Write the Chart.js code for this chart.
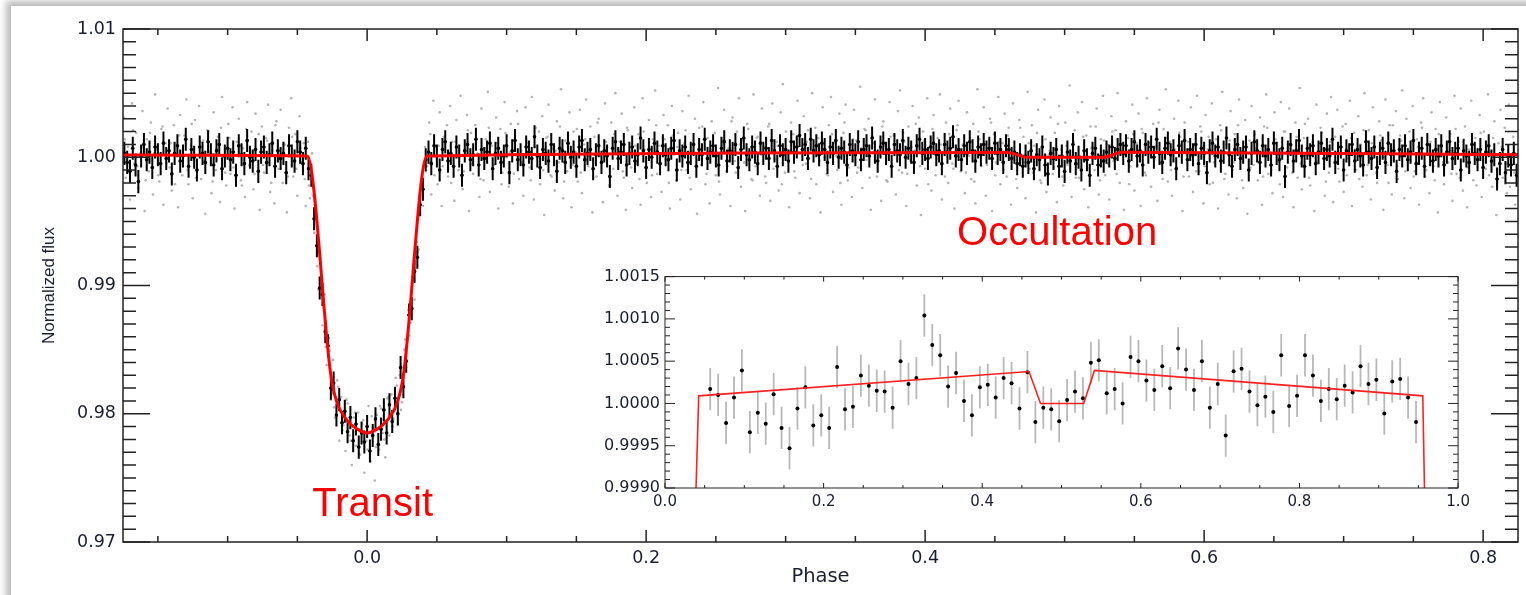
<!DOCTYPE html>
<html>
<head>
<meta charset="utf-8">
<title>Transit and occultation light curve</title>
<script src="https://cdn.jsdelivr.net/npm/chart.js@4.4.1/dist/chart.umd.min.js"></script>
<style>
  html, body { margin: 0; padding: 0; width: 1526px; height: 595px; overflow: hidden; background: #fff; }
  .card { position: absolute; left: 11px; top: 6px; width: 1600px; height: 700px; background: #fff; box-shadow: 0 0 7px 5px rgba(0, 0, 0, 0.28); }
  #mainChart { position: absolute; left: 0; top: 0; }
  #insetChart { position: absolute; left: 590px; top: 262px; background: #fff; }
</style>
</head>
<body>
<div class="card"></div>
<canvas id="mainChart" width="1526" height="595"></canvas>
<canvas id="insetChart" width="885" height="255"></canvas>
<script>
// tick labels
const mainXTicks = [0.0, 0.2, 0.4, 0.6, 0.8];
const mainYTicks = [0.97, 0.98, 0.99, 1.00, 1.01];
const insetXTicks = [0.0, 0.2, 0.4, 0.6, 0.8, 1.0];
const insetYTicks = [0.9990, 0.9995, 1.0000, 1.0005, 1.0010, 1.0015];

// red model curves
const modelPhase = [-0.175, -0.043, -0.026, -0.022, -0.0145, -0.007, 0, 0.007, 0.0145, 0.022, 0.026, 0.043, 0.459, 0.4735, 0.528, 0.5415, 0.825];
const modelFlux = [1.00018, 1.0001, 0.9830, 0.9810, 0.9795, 0.9788, 0.9785, 0.9788, 0.9795, 0.9810, 0.9830, 1.0001, 1.00038, 1.0000, 1.0000, 1.00039, 1.00019];
const insetModelPhase = [0.0385, 0.0425, 0.459, 0.4735, 0.528, 0.5415, 0.9555, 0.958];
const insetModelFlux = [0.9988, 1.00009, 1.000378, 1.0000, 1.0000, 1.00039, 1.00009, 0.9988];

// black binned points, one every 0.002 in phase from -0.174
const binStart = -0.174, binStep = 0.002;
const binnedFlux = [
  1.0003, 0.9996, 0.9989, 1.0007, 0.9994, 0.9981, 1.0001, 1.0010, 0.9998, 1.0004,
  0.9992, 1.0008, 1.0002, 0.9995, 1.0011, 0.9999, 1.0005, 0.9987, 1.0003, 1.0009,
  0.9997, 1.0001, 1.0014, 0.9993, 1.0006, 1.0000, 0.9990, 1.0008, 1.0003, 0.9996,
  1.0012, 1.0002, 0.9994, 1.0005, 1.0010, 0.9991, 1.0001, 1.0007, 0.9998, 1.0004,
  0.9986, 1.0009, 1.0002, 0.9995, 1.0013, 1.0000, 0.9997, 1.0006, 0.9989, 1.0004,
  1.0008, 0.9996, 1.0002, 1.0011, 0.9993, 1.0005, 0.9999, 1.0003, 0.9988, 1.0009,
  1.0001, 0.9997, 1.0012, 1.0004, 0.9995, 1.0007,
  // transit
  0.9991, 0.9986, 0.9952, 0.9931, 0.9898, 0.9893, 0.9864, 0.9853, 0.9820, 0.9824,
  0.9799, 0.9811, 0.9793, 0.9802, 0.9786, 0.9797, 0.9779, 0.9792, 0.9774, 0.9785,
  0.9778, 0.9790, 0.9771, 0.9783, 0.9796, 0.9776, 0.9788, 0.9803, 0.9785, 0.9807,
  0.9794, 0.9812, 0.9800, 0.9836, 0.9821, 0.9841, 0.9877, 0.9882, 0.9911, 0.9922,
  0.9963, 0.9975, 0.9998,
  // after transit
  1.0004, 0.9995, 1.0009, 1.0001, 0.9990, 1.0006, 1.0012, 0.9997, 1.0003, 0.9993,
  1.0008, 1.0001, 0.9986, 1.0005, 1.0010, 0.9998, 1.0002, 1.0014, 0.9994, 1.0006,
  0.9999, 1.0004, 1.0011, 0.9991, 1.0003, 1.0007, 0.9996, 1.0001, 1.0009, 0.9988,
  1.0005, 1.0013, 0.9998, 1.0002, 0.9994, 1.0008, 1.0004, 0.9999, 1.0016, 1.0001,
  0.9992, 1.0006, 1.0003, 0.9997, 1.0010, 1.0002, 0.9989, 1.0007, 1.0005, 0.9996,
  1.0011, 1.0000, 1.0004, 0.9993, 1.0008, 1.0013, 0.9998, 1.0003, 1.0006, 0.9991,
  1.0002, 1.0009, 0.9996, 1.0005, 1.0001, 0.9985, 1.0007, 1.0012, 0.9999, 1.0004,
  1.0010, 0.9994, 1.0003, 1.0008, 0.9997, 1.0002, 1.0015, 1.0005, 0.9992, 1.0006,
  1.0000, 1.0011, 1.0004, 0.9995, 1.0009, 1.0002, 0.9998, 1.0007, 1.0013, 0.9990,
  1.0005, 1.0001, 1.0008, 0.9996, 1.0003, 1.0010, 0.9993, 1.0006, 1.0002, 1.0014,
  0.9999, 1.0004, 1.0009, 1.0001, 0.9994, 1.0007, 1.0012, 0.9997, 1.0005, 1.0003,
  1.0010, 0.9992, 1.0006, 1.0015, 1.0002, 0.9998, 1.0008, 1.0004, 0.9995, 1.0011,
  1.0003, 1.0007, 0.9999, 1.0013, 1.0005, 0.9993, 1.0009, 1.0002, 1.0006, 0.9997,
  1.0012, 1.0004, 1.0008, 1.0017, 1.0006, 1.0010, 0.9999, 1.0014, 1.0005, 1.0009,
  1.0002, 1.0011, 1.0006, 0.9996, 1.0008, 1.0003, 1.0013, 1.0000, 1.0007, 1.0004,
  0.9994, 1.0010, 1.0005, 1.0002, 1.0012, 0.9998, 1.0006, 1.0009, 1.0001, 1.0015,
  1.0004, 0.9997, 1.0008, 1.0011, 1.0003, 1.0006, 0.9993, 1.0010, 1.0005, 1.0002,
  1.0013, 1.0000, 1.0007, 1.0004, 0.9996, 1.0009, 1.0014, 1.0003, 1.0006, 0.9999,
  1.0008, 1.0011, 1.0002, 1.0005, 0.9995, 1.0010, 1.0004, 1.0007, 1.0016, 1.0001,
  1.0006, 0.9998, 1.0009, 1.0003, 1.0012, 1.0005, 0.9997, 1.0008, 1.0002, 1.0010,
  1.0004, 1.0007, 0.9999, 1.0011, 1.0003, 1.0006, 0.9996, 1.0009,
  // occultation
  1.0006, 0.9999, 1.0004, 0.9995, 1.0002, 0.9993, 1.0001,
  0.9996, 1.0005, 0.9991, 1.0002, 0.9998, 1.0008, 0.9994, 0.9987, 1.0003, 0.9999,
  1.0006, 0.9993, 1.0001, 0.9989, 1.0004, 0.9997, 1.0010, 0.9995, 1.0000, 0.9990,
  1.0005, 0.9998, 0.9986, 1.0003, 1.0007, 0.9994, 1.0001,
  0.9997, 1.0004, 1.0001, 1.0008, 0.9999, 1.0006, 1.0010,
  // after occultation
  1.0003, 1.0009, 0.9997, 1.0006, 1.0012, 1.0001, 1.0005, 0.9994, 1.0010, 1.0004,
  1.0008, 1.0000, 1.0014, 1.0003, 0.9996, 1.0007, 1.0011, 1.0002, 1.0005, 0.9991,
  1.0009, 1.0004, 1.0013, 0.9998, 1.0006, 1.0002, 1.0010, 0.9995, 1.0007, 1.0003,
  0.9988, 1.0005, 1.0011, 1.0001, 1.0008, 0.9997, 1.0004, 1.0015, 1.0002, 0.9993,
  1.0006, 1.0010, 0.9999, 1.0004, 1.0008, 0.9990, 1.0003, 1.0012, 1.0005, 0.9996,
  1.0009, 1.0001, 1.0006, 0.9994, 1.0011, 1.0003, 0.9998, 1.0007, 0.9985, 1.0004,
  1.0010, 0.9997, 1.0005, 1.0013, 1.0001, 0.9993, 1.0007, 1.0002, 1.0009, 0.9995,
  1.0004, 1.0011, 0.9999, 1.0006, 1.0001, 1.0014, 0.9996, 1.0003, 1.0008, 0.9990,
  1.0005, 1.0002, 1.0010, 0.9997, 1.0006, 1.0001, 0.9994, 1.0012, 1.0004, 0.9999,
  1.0008, 0.9992, 1.0003, 1.0007, 0.9996, 1.0011, 1.0002, 1.0005, 0.9989, 1.0006,
  1.0001, 1.0009, 0.9998, 1.0004, 1.0013, 0.9995, 1.0003, 1.0007, 0.9993, 1.0010,
  1.0002, 0.9997, 1.0006, 1.0001, 1.0009, 0.9994, 1.0004, 1.0012, 0.9999, 1.0003,
  1.0007, 0.9990, 1.0005, 1.0001, 0.9996, 1.0010, 1.0003, 0.9998, 1.0006, 0.9992,
  1.0004, 1.0009, 0.9997, 1.0002, 0.9983, 0.9995, 1.0006, 0.9988, 1.0001, 0.9994,
  1.0003, 0.9986
];

// grey unbinned points, one every 0.0015 in phase from -0.1745
const rawStart = -0.1745, rawStep = 0.0015;
const rawFlux = [
  1.0031, 0.9984, 1.0008, 0.9967, 1.0042, 0.9995, 1.0019, 0.9976, 1.0003, 1.0036, 0.9958, 1.0014,
  0.9989, 1.0027, 0.9971, 1.0049, 1.0006, 0.9981, 1.0022, 0.9963, 1.0011, 1.0038, 0.9992, 0.9974,
  1.0025, 1.0002, 0.9961, 1.0033, 0.9986, 1.0017, 1.0045, 0.9979, 1.0009, 0.9968, 1.0029, 0.9997,
  1.0040, 0.9983, 1.0013, 0.9956, 1.0021, 1.0004, 0.9972, 1.0035, 0.9990, 1.0016, 0.9965, 1.0047,
  1.0000, 0.9978, 1.0026, 0.9987, 1.0039, 0.9960, 1.0012, 1.0030, 0.9982, 1.0007, 0.9969, 1.0043,
  0.9994, 1.0020, 0.9975, 1.0034, 1.0001, 0.9959, 1.0024, 0.9988, 1.0015, 1.0041, 0.9973, 1.0005,
  0.9964, 1.0028, 0.9991, 1.0037, 0.9980, 1.0010, 0.9957, 1.0023, 1.0046, 0.9985, 1.0018, 0.9970,
  1.0032, 0.9996, 1.0011, 0.9962,
  // transit
  1.0012, 0.9968, 1.0003, 0.9941, 0.9952, 0.9897, 0.9921, 0.9869, 0.9893, 0.9838, 0.9859, 0.9811,
  0.9842, 0.9797, 0.9826, 0.9779, 0.9813, 0.9791, 0.9771, 0.9808, 0.9783, 0.9760, 0.9797, 0.9775,
  0.9801, 0.9768, 0.9792, 0.9754, 0.9779, 0.9806, 0.9763, 0.9789, 0.9748, 0.9799, 0.9772, 0.9804,
  0.9785, 0.9766, 0.9812, 0.9783, 0.9815, 0.9796, 0.9828, 0.9791, 0.9830, 0.9809, 0.9850, 0.9836,
  0.9881, 0.9871, 0.9907, 0.9889, 0.9934, 0.9928, 0.9979, 0.9962, 1.0008,
  // after transit
  0.9993, 1.0027, 0.9971, 1.0044, 1.0008, 0.9979, 1.0035, 0.9962, 1.0016, 1.0001, 0.9985, 1.0040,
  1.0012, 0.9966, 1.0029, 0.9990, 1.0048, 0.9975, 1.0006, 1.0033, 0.9958, 1.0019, 0.9987, 1.0025,
  1.0003, 0.9969, 1.0038, 0.9982, 1.0014, 1.0051, 0.9973, 1.0009, 0.9994, 1.0031, 0.9960, 1.0022,
  0.9988, 1.0043, 1.0000, 0.9977, 1.0026, 0.9964, 1.0017, 1.0036, 0.9983, 1.0005, 0.9970, 1.0039,
  1.0011, 0.9992, 1.0047, 0.9967, 1.0023, 1.0002, 0.9979, 1.0032, 0.9955, 1.0015, 1.0041, 0.9986,
  1.0007, 0.9974, 1.0028, 0.9996, 1.0053, 0.9968, 1.0013, 0.9989, 1.0035, 0.9961, 1.0020, 1.0004,
  0.9981, 1.0037, 0.9972, 1.0010, 1.0045, 0.9993, 1.0024, 0.9957, 1.0016, 0.9985, 1.0030, 1.0001,
  0.9965, 1.0042, 1.0008, 0.9978, 1.0027, 0.9991, 1.0050, 0.9970, 1.0012, 1.0034, 0.9984, 0.9959,
  1.0021, 1.0003, 0.9976, 1.0039, 0.9995, 1.0018, 0.9963, 1.0046, 1.0006, 0.9980, 1.0029, 0.9969,
  1.0014, 1.0052, 0.9987, 1.0009, 0.9973, 1.0033, 0.9998, 1.0025, 0.9960, 1.0040, 1.0002, 0.9982,
  1.0019, 0.9967, 1.0036, 1.0011, 0.9990, 1.0048, 0.9975, 1.0005, 1.0030, 0.9956, 1.0023, 0.9994,
  1.0043, 0.9979, 1.0015, 0.9964, 1.0028, 1.0001, 0.9986, 1.0054, 0.9971, 1.0010, 1.0037, 0.9989,
  1.0007, 0.9962, 1.0031, 0.9997, 1.0020, 1.0046, 0.9977, 1.0013, 0.9958, 1.0026, 1.0004, 0.9983,
  1.0049, 0.9993, 1.0016, 0.9970, 1.0038, 1.0008, 0.9980, 1.0024, 0.9966, 1.0042, 0.9999, 1.0012,
  0.9974, 1.0035, 1.0057, 0.9988, 1.0003, 0.9961, 1.0027, 1.0018, 0.9984, 1.0044, 0.9972, 1.0009,
  1.0032, 0.9995, 1.0021, 0.9968, 1.0050, 1.0006, 0.9979, 1.0015, 0.9957, 1.0039, 1.0000, 0.9987,
  1.0025, 1.0047, 0.9973, 1.0011, 0.9990, 1.0034, 0.9963, 1.0019, 1.0041, 0.9982, 1.0004, 0.9969,
  1.0037, 1.0013, 0.9992, 1.0055, 0.9976, 1.0022, 0.9998, 1.0030, 0.9959, 1.0016, 1.0045, 0.9985,
  1.0002, 0.9966, 1.0028, 1.0009, 0.9981, 1.0043, 0.9994, 1.0017, 0.9971, 1.0036, 1.0052, 0.9988,
  1.0012, 0.9962, 1.0024, 0.9997, 1.0040, 1.0005, 0.9978, 1.0031, 0.9955, 1.0020, 0.9991, 1.0046,
  1.0008, 0.9974, 1.0033, 0.9986, 1.0015, 1.0049, 0.9967, 1.0003, 1.0027, 0.9980, 1.0038, 0.9995,
  0.9960, 1.0021, 1.0044, 0.9989, 1.0010, 0.9972, 1.0035, 1.0001, 0.9983, 1.0026, 0.9964, 1.0053,
  1.0014, 0.9993, 1.0039, 0.9970, 1.0007, 1.0030, 0.9958, 1.0018, 0.9996, 1.0047, 0.9979, 1.0011,
  1.0034, 0.9985, 1.0023, 0.9963, 1.0042, 1.0004, 0.9976, 1.0029, 0.9999, 1.0016, 0.9968, 1.0051,
  0.9991, 1.0025, 1.0009, 0.9957, 1.0037, 0.9982, 1.0013, 1.0045, 0.9973, 1.0002, 1.0031, 0.9987,
  1.0019, 0.9965, 1.0040, 1.0006, 0.9978, 1.0027, 0.9994, 1.0056, 0.9969, 1.0012, 0.9984, 1.0035,
  1.0001, 1.0043, 0.9975, 1.0017, 0.9961, 1.0024, 1.0008, 0.9990, 1.0038, 0.9971, 1.0014, 1.0048,
  0.9986, 1.0010, 0.9967, 1.0032, 0.9997, 1.0021, 1.0050, 0.9980, 1.0005, 0.9959, 1.0028, 1.0015,
  0.9993, 1.0041, 0.9974, 1.0011, 1.0034, 0.9962, 1.0019, 0.9988, 1.0046, 1.0003, 0.9977, 1.0026,
  1.0008, 0.9966, 1.0037, 0.9995, 1.0022, 1.0053, 0.9981, 1.0012, 0.9970, 1.0030, 0.9992, 1.0044,
  1.0016, 0.9958, 1.0027, 1.0002, 0.9985, 1.0039, 0.9973, 1.0009, 1.0048, 0.9989, 1.0020, 0.9964,
  1.0033, 1.0006, 0.9979, 1.0042, 0.9996, 1.0014, 0.9960, 1.0025, 1.0051, 0.9983, 1.0010, 0.9971,
  1.0036, 0.9990, 1.0018, 0.9968, 1.0045, 1.0001, 0.9976, 1.0029, 0.9956, 1.0013, 1.0040, 0.9994,
  1.0007, 0.9982, 1.0031, 0.9963, 1.0024, 1.0049, 0.9987, 1.0004, 0.9972, 1.0035, 1.0011, 0.9997,
  1.0043, 0.9969, 1.0020, 0.9992, 1.0038, 1.0009, 0.9961, 1.0027, 0.9984, 1.0054, 0.9975, 1.0015,
  1.0002, 1.0030, 0.9978, 1.0012, 0.9958, 1.0041, 0.9995, 1.0023, 1.0006, 0.9970, 1.0034, 0.9988,
  1.0047, 0.9965, 1.0016, 1.0037, 0.9981, 1.0008, 0.9973, 1.0026, 0.9999, 1.0044, 0.9962, 1.0019,
  0.9990, 1.0032, 1.0010, 0.9977, 1.0050, 0.9986, 1.0021, 0.9967, 1.0039, 1.0003, 0.9980, 1.0028,
  1.0013, 0.9959, 1.0045, 0.9994, 1.0025, 0.9971, 1.0007, 1.0036, 0.9983, 1.0017, 1.0052, 0.9968,
  1.0030, 1.0000, 0.9976, 1.0040, 0.9989, 1.0014, 0.9963, 1.0027, 1.0046, 0.9985, 1.0009, 0.9972,
  1.0035, 0.9993, 1.0022, 0.9957, 1.0043, 1.0005, 0.9979, 1.0031, 0.9996, 1.0018, 0.9966, 1.0048,
  0.9987, 1.0012, 1.0038, 0.9974, 1.0024, 0.9961, 1.0006, 1.0044, 0.9982, 1.0015, 0.9998, 1.0033,
  0.9969, 1.0020, 0.9991, 1.0049, 1.0004, 0.9977, 1.0028, 0.9955, 1.0011, 1.0037, 0.9984, 1.0023,
  0.9972, 1.0041, 0.9995, 1.0016, 0.9963, 1.0030
];

// more grey unbinned points, one every 0.003 in phase from -0.17375
const rawStart2 = -0.17375, rawStep2 = 0.003;
const rawFlux2 = [
  1.0014, 0.9989, 1.0021, 0.9993, 1.0008, 0.9982, 1.0019, 1.0003, 0.9986, 1.0024, 0.9995,
  1.0011, 0.9979, 1.0017, 1.0001, 0.9990, 1.0026, 0.9984, 1.0012, 0.9997, 1.0020, 0.9981,
  1.0006, 1.0023, 0.9988, 1.0015, 0.9992, 1.0009, 0.9978, 1.0022, 1.0004, 0.9987, 1.0018,
  0.9994, 1.0013, 0.9980, 1.0025, 0.9999, 1.0010, 0.9985, 1.0016, 0.9991, 1.0007, 0.9983,
  // transit
  0.9978, 0.9970, 0.9915, 0.9911, 0.9852, 0.9849, 0.9805, 0.9821, 0.9787, 0.9811,
  0.9779, 0.9801, 0.9769, 0.9795, 0.9772, 0.9798, 0.9774, 0.9806, 0.9780, 0.9813,
  0.9790, 0.9822, 0.9803, 0.9858, 0.9861, 0.9917, 0.9926, 0.9975, 0.9989,
  // after transit
  1.0018, 0.9986, 1.0009, 0.9993, 1.0025, 0.9980, 1.0012, 1.0002, 0.9989, 1.0021, 0.9995, 1.0015, 0.9983,
  1.0007, 1.0023, 0.9991, 1.0011, 0.9979, 1.0019, 1.0004, 0.9987, 1.0026, 0.9996, 1.0013, 0.9982, 1.0008,
  1.0020, 0.9990, 1.0016, 0.9985, 1.0005, 1.0024, 0.9981, 1.0010, 0.9994, 1.0022, 0.9988, 1.0014, 1.0001,
  0.9984, 1.0027, 0.9997, 1.0012, 0.9978, 1.0018, 1.0006, 0.9989, 1.0023, 0.9992, 1.0009, 0.9983, 1.0020,
  1.0003, 0.9986, 1.0025, 0.9995, 1.0014, 0.9980, 1.0017, 1.0008, 0.9990, 1.0021, 0.9984, 1.0011, 0.9998,
  1.0024, 0.9987, 1.0006, 1.0019, 0.9981, 1.0013, 0.9993, 1.0028, 0.9988, 1.0010, 0.9996, 1.0022, 0.9982,
  1.0015, 1.0002, 0.9985, 1.0026, 0.9991, 1.0009, 0.9979, 1.0020, 1.0005, 0.9989, 1.0017, 0.9994, 1.0012,
  0.9983, 1.0023, 0.9997, 1.0010, 0.9986, 1.0018, 1.0001, 0.9980, 1.0027, 0.9992, 1.0014, 0.9988, 1.0007,
  1.0021, 0.9984, 1.0011, 0.9995, 1.0024, 0.9982, 1.0016, 1.0004, 0.9990, 1.0019, 0.9987, 1.0008, 1.0026,
  0.9993, 1.0013, 0.9979, 1.0022, 0.9999, 1.0010, 0.9985, 1.0018, 0.9991, 1.0025, 1.0003, 0.9988, 1.0015,
  0.9981, 1.0020, 1.0006, 0.9994, 1.0027, 0.9986, 1.0012, 0.9990, 1.0017, 1.0000, 0.9983, 1.0023, 0.9996,
  1.0011, 0.9988, 1.0019, 0.9980, 1.0014, 1.0005, 0.9992, 1.0026, 0.9985, 1.0009, 0.9997, 1.0021, 0.9984,
  1.0016, 0.9991, 1.0007, 1.0024, 0.9982, 1.0013, 0.9995, 1.0020, 0.9987, 1.0010, 1.0002, 0.9979, 1.0018,
  0.9994, 1.0022, 0.9986, 1.0011, 0.9998, 1.0027, 0.9983, 1.0015, 0.9990, 1.0006, 1.0019, 0.9985, 1.0012,
  1.0001, 0.9989, 1.0024, 0.9993, 1.0016, 0.9980, 1.0008, 1.0021, 0.9987, 1.0013, 0.9996, 1.0025, 0.9982,
  1.0010, 0.9992, 1.0018, 1.0004, 0.9985, 1.0023, 0.9990, 1.0014, 0.9979, 1.0020, 1.0007, 0.9988, 1.0016,
  0.9995, 1.0026, 0.9984, 1.0009, 0.9997, 1.0019, 0.9981, 1.0012, 1.0003, 0.9991, 1.0024, 0.9986, 1.0015,
  1.0006, 0.9983, 1.0021, 0.9994, 1.0011, 0.9988, 1.0017, 1.0000, 0.9980, 1.0025, 0.9993, 1.0013, 0.9989,
  1.0020, 0.9985, 1.0008, 1.0023, 0.9990, 1.0012, 0.9982, 1.0018, 0.9996, 1.0005, 0.9987, 1.0022, 0.9984,
  1.0014, 0.9992, 1.0010, 0.9978, 1.0019, 1.0003, 0.9986, 1.0015, 0.9981, 1.0008, 0.9995, 0.9977, 0.9988
];

// inset: 0.01 phase bins from 0.057
const insetStart = 0.057, insetStep = 0.01;
const insetFlux = [
  1.00017, 1.00010, 0.99977, 1.00007, 1.00039, 0.99966, 0.99989, 0.99976, 1.00011, 0.99971,
  0.99947, 0.99994, 1.00019, 0.99974, 0.99986, 0.99971, 1.00043, 0.99993, 0.99996, 1.00033,
  1.00021, 1.00015, 1.00014, 0.99995, 1.00050, 1.00023, 1.00030, 1.00104, 1.00069, 1.00057,
  1.00020, 1.00036, 1.00003, 0.99986, 1.00019, 1.00022, 1.00007, 1.00030, 1.00024, 0.99994,
  1.00037, 0.99978, 0.99995, 0.99993, 0.99979, 1.00004, 1.00014, 1.00006, 1.00048, 1.00051,
  1.00012, 1.00017, 1.00000, 1.00055, 1.00050, 1.00027, 1.00016, 1.00044, 1.00018, 1.00065,
  1.00040, 1.00016, 1.00050, 0.99995, 1.00023, 0.99962, 1.00038, 1.00041, 1.00014, 0.99998,
  1.00008, 0.99990, 1.00057, 0.99997, 1.00009, 1.00057, 1.00033, 1.00003, 1.00017, 1.00005,
  1.00021, 1.00013, 1.00044, 1.00023, 1.00028, 0.99988, 1.00026, 1.00029, 1.00007, 0.99978
];

const annotations = [
  { text: 'Transit', phase: 0.004, flux: 0.97203 },
  { text: 'Occultation', phase: 0.4946, flux: 0.99316 }
];

const textColor = '#1a1f2e';
const onGrid = (values, start, step) => values.map((y, i) => ({ x: start + i * step, y }));
const pairs = (xs, ys) => xs.map((x, i) => ({ x, y: ys[i] }));

// vertical (and small horizontal) error bars, drawn under the points
const errorBars = {
  id: 'errorBars',
  beforeDatasetDraw(chart, args) {
    const ds = chart.data.datasets[args.index];
    if (!ds.yErr) return;
    const { ctx, chartArea: a, scales: { x, y } } = chart;
    ctx.save();
    ctx.beginPath();
    ctx.rect(a.left, a.top, a.width, a.height);
    ctx.clip();
    ctx.strokeStyle = ds.errColor;
    ctx.lineWidth = ds.errWidth;
    ctx.beginPath();
    ds.data.forEach(p => {
      const px = x.getPixelForValue(p.x);
      ctx.moveTo(px, y.getPixelForValue(p.y - ds.yErr));
      ctx.lineTo(px, y.getPixelForValue(p.y + ds.yErr));
      if (ds.xErr) {
        const py = y.getPixelForValue(p.y);
        ctx.moveTo(x.getPixelForValue(p.x - ds.xErr), py);
        ctx.lineTo(x.getPixelForValue(p.x + ds.xErr), py);
      }
    });
    ctx.stroke();
    ctx.restore();
  }
};

// box frame with inward major/minor ticks on all four sides
const frameTicks = {
  id: 'frameTicks',
  afterDraw(chart, args, opts) {
    const { ctx, chartArea: a, scales: { x, y } } = chart;
    const steps = (scale, step) => {
      const out = [];
      for (let k = Math.ceil(scale.min / step - 1e-6); k <= Math.floor(scale.max / step + 1e-6); k++) out.push(k * step);
      return out;
    };
    const isMajor = (scale, v) => scale.ticks.some(t => Math.abs(t.value - v) < 1e-9);
    ctx.save();
    ctx.strokeStyle = opts.color;
    ctx.lineWidth = opts.width;
    ctx.beginPath();
    steps(x, opts.xStep).forEach(v => {
      const len = isMajor(x, v) ? opts.xMajor : opts.xMinor;
      const px = x.getPixelForValue(v);
      ctx.moveTo(px, a.bottom); ctx.lineTo(px, a.bottom - len);
      ctx.moveTo(px, a.top); ctx.lineTo(px, a.top + len);
    });
    steps(y, opts.yStep).forEach(v => {
      const len = isMajor(y, v) ? opts.yMajor : opts.yMinor;
      const py = y.getPixelForValue(v);
      ctx.moveTo(a.left, py); ctx.lineTo(a.left + len, py);
      ctx.moveTo(a.right, py); ctx.lineTo(a.right - len, py);
    });
    ctx.stroke();
    ctx.strokeRect(a.left, a.top, a.width, a.height);
    ctx.restore();
  }
};

const annotate = {
  id: 'annotate',
  afterDraw(chart) {
    const { ctx, scales: { x, y } } = chart;
    ctx.save();
    ctx.font = '40px "Liberation Sans", Arial, sans-serif';
    ctx.fillStyle = '#ff0000';
    ctx.textAlign = 'center';
    ctx.textBaseline = 'alphabetic';
    annotations.forEach(n => ctx.fillText(n.text, x.getPixelForValue(n.phase), y.getPixelForValue(n.flux)));
    ctx.restore();
  }
};

const tickFont = size => ({ family: 'DejaVu Sans', size });

new Chart(document.getElementById('mainChart'), {
  type: 'scatter',
  data: {
    datasets: [
      { label: 'Model', data: pairs(modelPhase, modelFlux), showLine: true, borderColor: '#ff0000', borderWidth: 3,
        pointRadius: 0, cubicInterpolationMode: 'monotone', order: 0 },
      { label: 'Binned', data: onGrid(binnedFlux, binStart, binStep), pointRadius: 1.8, backgroundColor: '#000',
        borderWidth: 0, yErr: 0.0009, xErr: binStep / 2, errColor: '#000', errWidth: 2, order: 1 },
      { label: 'Unbinned', data: onGrid(rawFlux, rawStart, rawStep), pointRadius: 1.3, backgroundColor: '#b3b3b3',
        borderWidth: 0, order: 2 },
      { label: 'Unbinned 2', data: onGrid(rawFlux2, rawStart2, rawStep2), pointRadius: 1.3, backgroundColor: '#b3b3b3',
        borderWidth: 0, order: 3 }
    ]
  },
  options: {
    responsive: false,
    animation: false,
    events: [],
    layout: { padding: { top: 29, right: 8, bottom: 0, left: 0 } },
    plugins: {
      legend: { display: false },
      tooltip: { enabled: false },
      frameTicks: { color: '#222', width: 1.5, xStep: 0.05, xMajor: 12, xMinor: 6, yStep: 0.001, yMajor: 27, yMinor: 13 }
    },
    scales: {
      x: {
        type: 'linear', min: -0.175, max: 0.825,
        afterBuildTicks: s => { s.ticks = mainXTicks.map(value => ({ value })); },
        afterFit: s => { s.height = 53; },
        grid: { display: false, drawTicks: false },
        border: { display: false },
        ticks: { padding: 6, color: textColor, font: tickFont(17.5), callback: v => v.toFixed(1) },
        title: { display: true, text: 'Phase', color: textColor, font: tickFont(19.5), padding: { top: 0, bottom: 6 } }
      },
      y: {
        type: 'linear', min: 0.97, max: 1.01,
        afterBuildTicks: s => { s.ticks = mainYTicks.map(value => ({ value })); },
        afterFit: s => { s.width = 123; },
        grid: { display: false, drawTicks: false },
        border: { display: false },
        ticks: { padding: 7, color: textColor, font: tickFont(17.5), callback: v => v.toFixed(2) },
        title: { display: true, text: 'Normalized flux', color: textColor,
          font: { family: 'Liberation Sans', size: 17 }, padding: { top: 39, bottom: 0 } }
      }
    }
  },
  plugins: [errorBars, frameTicks, annotate]
});

new Chart(document.getElementById('insetChart'), {
  type: 'scatter',
  data: {
    datasets: [
      { label: 'Model', data: pairs(insetModelPhase, insetModelFlux), showLine: true, borderColor: '#ff2020',
        borderWidth: 1.6, pointRadius: 0, tension: 0, order: 0 },
      { label: 'Binned', data: onGrid(insetFlux, insetStart, insetStep), pointRadius: 2, backgroundColor: '#000',
        borderWidth: 0, yErr: 0.00025, errColor: '#b8b8b8', errWidth: 1.8, order: 1 }
    ]
  },
  options: {
    responsive: false,
    animation: false,
    events: [],
    layout: { padding: { top: 12, right: 13, bottom: 0, left: 0 } },
    plugins: {
      legend: { display: false },
      tooltip: { enabled: false },
      frameTicks: { color: '#222', width: 1, xStep: 0.05, xMajor: 5, xMinor: 3, yStep: 0.0001, yMajor: 10, yMinor: 5 }
    },
    scales: {
      x: {
        type: 'linear', min: 0, max: 1,
        afterBuildTicks: s => { s.ticks = insetXTicks.map(value => ({ value })); },
        afterFit: s => { s.height = 29; },
        grid: { display: false, drawTicks: false },
        border: { display: false },
        ticks: { padding: 5, color: textColor, font: tickFont(15), callback: v => v.toFixed(1) }
      },
      y: {
        type: 'linear', min: 0.999, max: 1.0015,
        afterBuildTicks: s => { s.ticks = insetYTicks.map(value => ({ value })); },
        afterFit: s => { s.width = 75; },
        grid: { display: false, drawTicks: false },
        border: { display: false },
        ticks: { padding: 5, color: textColor, font: tickFont(16), callback: v => v.toFixed(4) }
      }
    }
  },
  plugins: [errorBars, frameTicks]
});
</script>
</body>
</html>
